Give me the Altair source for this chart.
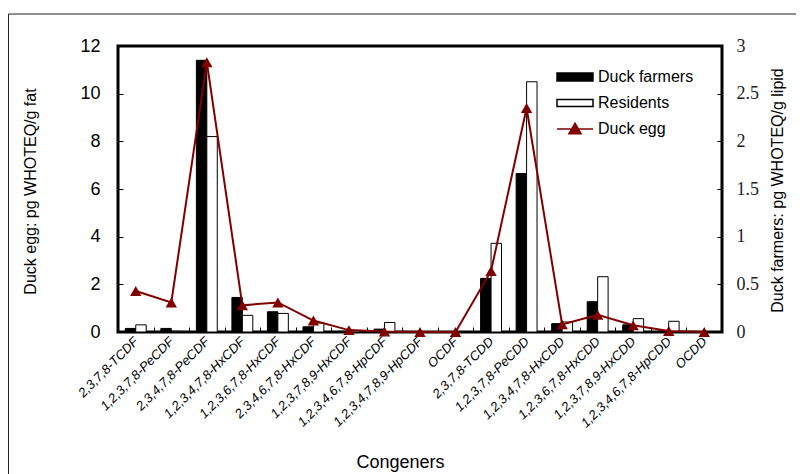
import altair as alt
import pandas as pd

congeners = ["2,3,7,8-TCDF", "1,2,3,7,8-PeCDF", "2,3,4,7,8-PeCDF", "1,2,3,4,7,8-HxCDF",
             "1,2,3,6,7,8-HxCDF", "2,3,4,6,7,8-HxCDF", "1,2,3,7,8,9-HxCDF", "1,2,3,4,6,7,8-HpCDF",
             "1,2,3,4,7,8,9-HpCDF", "OCDF", "2,3,7,8-TCDD", "1,2,3,7,8-PeCDD", "1,2,3,4,7,8-HxCDD",
             "1,2,3,6,7,8-HxCDD", "1,2,3,7,8,9-HxCDD", "1,2,3,4,6,7,8-HpCDD", "OCDD"]
farmers = [0.15, 0.15, 11.4, 1.45, 0.85, 0.22, 0.03, 0.12, 0.02, 0.01, 2.25, 6.65, 0.35, 1.27, 0.3, 0.05, 0.02]
residents = [0.3, 0.03, 8.2, 0.7, 0.78, 0.38, 0.05, 0.4, 0.02, 0.01, 3.72, 10.5, 0.42, 2.32, 0.56, 0.45, 0.02]
egg = [0.43, 0.31, 2.83, 0.28, 0.31, 0.12, 0.02, 0.005, 0.0, 0.0, 0.64, 2.35, 0.08, 0.18, 0.07, 0.01, 0.0]
series_names = ["Duck farmers", "Residents", "Duck egg"]

bars_df = pd.DataFrame({
    "congener": congeners * 2,
    "series": [series_names[0]] * len(congeners) + [series_names[1]] * len(congeners),
    "value": farmers + residents,
})
egg_df = pd.DataFrame({"congener": congeners, "series": series_names[2], "value": egg})
frame_df = pd.DataFrame({"k": [0]})

SANS = "Liberation Sans"
SERIF = "Liberation Serif"
RED = "#800000"
W, H = 604, 286
PL, PT = 110, 38
SVG_W, SVG_H = 788, 466

fill_scale = alt.Scale(domain=series_names, range=["black", "white", RED])
stroke_scale = alt.Scale(domain=series_names, range=["black", "black", RED])
shape_scale = alt.Scale(domain=series_names, range=[
    "M-1,-0.22H1V0.22H-1Z",
    "M-1,-0.2H1V0.2H-1Z",
    "M-1,0H1M0,-0.32L0.34,0.26L-0.34,0.26Z",
])
leg = alt.Legend(title=None, orient="none", legendX=438, legendY=18)

x_axis = alt.Axis(title="Congeners", labelAngle=-45, labelAlign="right", labelBaseline="middle",
                  labelFont=SANS, labelFontSize=13, labelFontStyle="italic", labelPadding=7,
                  labelColor="black",
                  ticks=True, tickSize=5, tickBand="extent", tickColor="black", offset=-5,
                  domain=False, titleFont=SANS, titleFontSize=18, titleFontWeight="normal",
                  titleX=282, titleY=135, titleBaseline="middle", titleColor="black")
x_enc = alt.X("congener:N", sort=congeners, scale=alt.Scale(paddingInner=0, paddingOuter=0), axis=x_axis)

left_axis = alt.Axis(title="Duck egg: pg WHOTEQ/g fat", values=[0, 2, 4, 6, 8, 10, 12], grid=False,
                     offset=-5, tickSize=5, tickColor="black", domain=False, labelPadding=18,
                     labelFont=SANS, labelFontSize=18, labelColor="black",
                     titleFont=SANS, titleFontSize=16, titleFontWeight="normal", titleColor="black",
                     titleAngle=270, titleX=-93, titleY=145, titleAlign="center", titleBaseline="middle")
right_axis = alt.Axis(title="Duck farmers: pg WHOTEQ/g lipid", orient="right",
                      values=[0, 0.5, 1, 1.5, 2, 2.5, 3], format="~g", grid=False,
                      offset=-5, tickSize=5, tickColor="black", domain=False, labelPadding=14,
                      labelFont=SERIF, labelFontSize=18, labelColor="#222",
                      titleFont=SANS, titleFontSize=16, titleFontWeight="normal", titleColor="black",
                      titleAngle=270, titleX=60, titleY=144, titleAlign="center", titleBaseline="middle")

bars = alt.Chart(bars_df).mark_bar(strokeWidth=1, opacity=1).encode(
    x=x_enc,
    xOffset=alt.XOffset("series:N", sort=series_names[:2], scale=alt.Scale(paddingOuter=0.7, paddingInner=0)),
    y=alt.Y("value:Q", scale=alt.Scale(domain=[0, 12], nice=False), axis=left_axis),
    fill=alt.Fill("series:N", scale=fill_scale, legend=leg),
    stroke=alt.Stroke("series:N", scale=stroke_scale, legend=leg),
)

line = alt.Chart(egg_df).mark_line(strokeWidth=2).encode(
    x=alt.X("congener:N", sort=congeners),
    y=alt.Y("value:Q", scale=alt.Scale(domain=[0, 3], nice=False), axis=right_axis),
    stroke=alt.Stroke("series:N", scale=stroke_scale, legend=leg),
)
pts = alt.Chart(egg_df).mark_point(shape="triangle-up", filled=True, size=130, color=RED, opacity=1).encode(
    x=alt.X("congener:N", sort=congeners),
    y=alt.Y("value:Q", scale=alt.Scale(domain=[0, 3], nice=False)),
)
dummy = alt.Chart(egg_df).transform_filter("false").mark_point(filled=True, opacity=1).encode(
    shape=alt.Shape("series:N", scale=shape_scale, legend=leg),
    fill=alt.Fill("series:N", scale=fill_scale, legend=leg),
    stroke=alt.Stroke("series:N", scale=stroke_scale, legend=leg),
)
right = alt.layer(line, pts, dummy)

frame_top = alt.Chart(frame_df).mark_rule(color="#222", strokeWidth=1).encode(
    x=alt.value(-PL + 0.5), x2=alt.value(SVG_W - PL), y=alt.value(-32))
frame_left = alt.Chart(frame_df).mark_rule(color="#222", strokeWidth=1).encode(
    x=alt.value(-PL + 0.5), y=alt.value(-32), y2=alt.value(SVG_H - PT))

chart = alt.layer(bars, right, frame_top, frame_left).resolve_scale(y="independent").properties(
    width=W, height=H,
    autosize=alt.AutoSizeParams(type="none"),
    padding={"left": PL, "top": PT, "right": SVG_W - PL - W, "bottom": SVG_H - PT - H},
).configure_view(stroke="black", strokeWidth=3).configure_legend(
    labelFont=SANS, labelFontSize=16, labelColor="black", symbolSize=1296, clipHeight=26,
    rowPadding=0, labelOffset=4, symbolStrokeWidth=1.5, padding=0, symbolOpacity=1,
)

chart.save("out.html", embed_options={"renderer": "svg", "actions": False})
